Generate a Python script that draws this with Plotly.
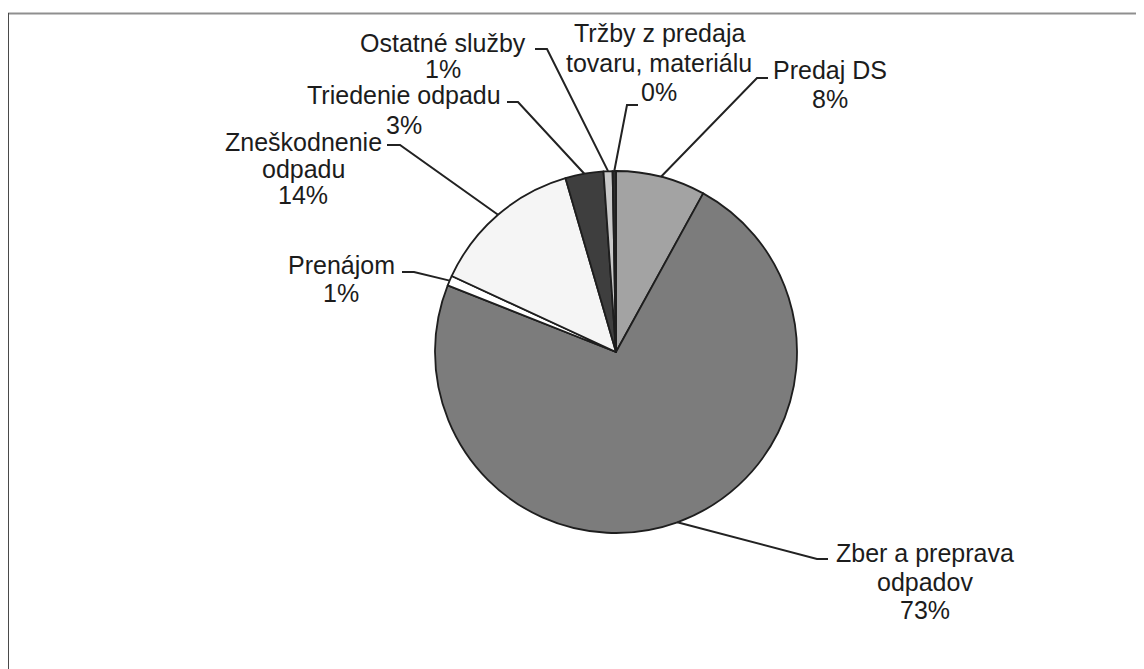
import math
import plotly.graph_objects as go

# ---- data ----
categories = ["Predaj DS", "Zber a preprava odpadov", "Prenájom",
              "Zneškodnenie odpadu", "Triedenie odpadu", "Ostatné služby",
              "Tržby z predaja tovaru, materiálu"]
shares = [8.0, 73.0, 0.9, 13.6, 3.4, 0.8, 0.3]
label_lines = [
    ["Predaj DS"],
    ["Zber a preprava", "odpadov"],
    ["Prenájom"],
    ["Zneškodnenie", "odpadu"],
    ["Triedenie odpadu"],
    ["Ostatné služby"],
    ["Tržby z predaja", "tovaru, materiálu"],
]
colors = ["#a3a3a3", "#7c7c7c", "#ffffff", "#f5f5f5", "#3e3e3e", "#c9c9c9", "#2e2e2e"]

# ---- layout (pixels, in screen coordinates) ----
W, H = 1144, 669
PAGE_MARGIN = 8  # default body margin of the html page
CX, CY, R = 616, 352, 181
FONT = dict(family="Liberation Sans, Arial, sans-serif", size=25, color="#1c1c1c")

# label block: center x, first-line y, line spacing
label_pos = [
    (830, 70, 29),
    (925, 553, 28.5),
    (341, 265, 28),
    (303, 142, 26.5),
    (404, 95, 30),
    (443, 43, 26),
    (659, 33, 29.5),
]
# leader: elbow point, end of horizontal tick
leader_pts = [
    ((757, 78), (768, 78)),
    ((817, 559), (828, 559)),
    ((414, 272), (402, 272)),
    ((400, 145), (387, 145)),
    ((518, 102), (507, 102)),
    ((547, 49), (535, 49)),
    ((627, 105), (638, 105)),
]


def px(x):
    return (x - PAGE_MARGIN) / W


def py(y):
    return 1 - (y - PAGE_MARGIN) / H


fig = go.Figure()
fig.add_trace(go.Pie(
    labels=categories, values=shares, sort=False, direction="clockwise",
    rotation=0, textinfo="none", hoverinfo="label+percent",
    marker=dict(colors=colors, line=dict(color="#1e1e1e", width=1.8)),
    domain=dict(x=[px(CX - R), px(CX + R)], y=[py(CY + R), py(CY - R)]),
    showlegend=False,
))

total = sum(shares)
annotations = []
shapes = []
cum = 0.0
for i, v in enumerate(shares):
    mid = (cum + v / 2) / total * 2 * math.pi
    cum += v
    ex = CX + R * math.sin(mid)
    ey = CY - R * math.cos(mid)
    (bx, by), (tx, ty) = leader_pts[i]
    shapes.append(dict(
        type="path", xref="paper", yref="paper",
        path=f"M {px(ex)} {py(ey)} L {px(bx)} {py(by)} L {px(tx)} {py(ty)}",
        line=dict(color="#222222", width=2)))
    pct = f"{round(v / total * 100):.0f}%"
    lines = label_lines[i] + [pct]
    lx, ly, sp = label_pos[i]
    for k, t in enumerate(lines):
        annotations.append(dict(
            x=px(lx), y=py(ly + k * sp), xref="paper", yref="paper",
            text=t, showarrow=False, xanchor="center", yanchor="middle",
            font=FONT))

# frame lines (top and left)
shapes.append(dict(type="line", xref="paper", yref="paper",
                   x0=px(7), y0=py(13.5), x1=1, y1=py(13.5),
                   line=dict(color="#8f8f8f", width=2)))
shapes.append(dict(type="line", xref="paper", yref="paper",
                   x0=px(8), y0=py(13), x1=px(8), y1=0,
                   line=dict(color="#4a4a4a", width=2)))

fig.update_layout(
    width=W, height=H, margin=dict(l=0, r=0, t=0, b=0),
    paper_bgcolor="white", plot_bgcolor="white",
    annotations=annotations, shapes=shapes,
)
fig.write_html("out.html")
